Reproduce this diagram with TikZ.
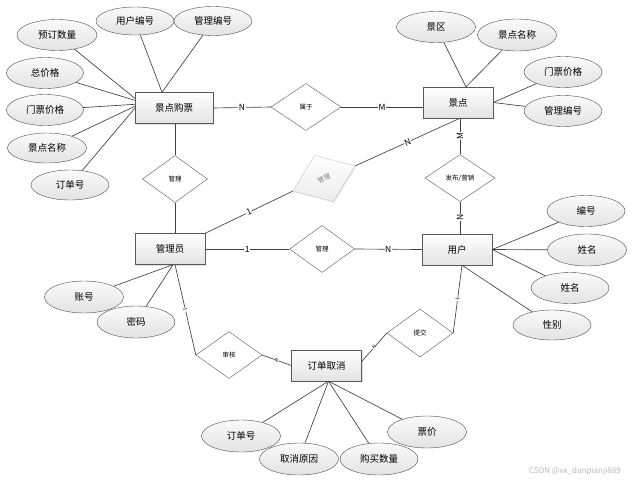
\documentclass[tikz,border=0pt]{standalone}
\usepackage{fontspec}
\setmainfont{Noto Sans CJK SC}
\usetikzlibrary{shapes.geometric,shadows,calc}
\begin{document}
\begin{tikzpicture}[x=1pt,y=-1pt,
 ent/.style={draw=gray!70!black, top color=white, bottom color=gray!22, minimum width=70pt, minimum height=31pt, inner sep=0pt, font=\fontsize{9.5}{11}\selectfont, drop shadow={shadow xshift=1.2pt,shadow yshift=-1.2pt,opacity=0.25}},
 attr/.style={ellipse, draw=gray!60!black, top color=gray!4, bottom color=gray!22, minimum width=78pt, minimum height=30pt, inner sep=0pt, font=\fontsize{9.5}{11}\selectfont},
 rel/.style={diamond, draw=gray!70!black, fill=white, minimum width=66pt, minimum height=47pt, inner sep=0pt, font=\fontsize{6.5}{8}\selectfont},
 ln/.style={draw=black!75, line width=0.65pt},
 lab/.style={font=\fontsize{8.5}{9}\selectfont, fill=white, inner sep=0.6pt},
 tinylab/.style={font=\fontsize{5}{5}\selectfont, fill=white, inner sep=0.3pt, sloped}
]
\useasboundingbox[fill=white] (0,0) rectangle (642,482);

% entities
\node[ent, minimum width=78pt] (gp) at (174,108) {景点购票};
\node[ent] (jd) at (458,102.5) {景点};
\node[ent] (gly) at (170,249) {管理员};
\node[ent] (yh) at (457,249.5) {用户};
\node[ent] (dd) at (326.5,365.5) {订单取消};

% relationships
\node[rel, minimum width=70pt] (sy) at (306,107) {属于};
\node[rel, minimum width=65pt] (gl1) at (175,179) {管理};
\node[rel, minimum width=70pt] (fb) at (460,178) {发布/营销};
\node[rel, minimum width=65pt] (gl2) at (322,249) {管理};
\node[rel, minimum width=67pt, minimum height=50pt, rotate=22, draw=gray!45, top color=white, bottom color=gray!15, text=gray, drop shadow={shadow xshift=1pt,shadow yshift=-1pt,opacity=0.2}] (gd) at (324,178.5) {管理};
\node[rel] (sh) at (229,355) {审核};
\node[rel, minimum height=48pt] (tj) at (420,333) {提交};

% attributes of 景点购票
\node[attr, minimum width=80pt, minimum height=31pt] (a1) at (57,35) {预订数量};
\node[attr, minimum height=28pt] (a2) at (135,21) {用户编号};
\node[attr, minimum height=29pt] (a3) at (213,21) {管理编号};
\node[attr, minimum width=77pt, minimum height=31pt] (a4) at (45,73) {总价格};
\node[attr, minimum width=77pt, minimum height=31pt] (a5) at (45,110) {门票价格};
\node[attr, minimum width=79pt] (a6) at (47,148) {景点名称};
\node[attr] (a7) at (70,185) {订单号};

% attributes of 景点
\node[attr, minimum width=79pt, minimum height=31pt] (b1) at (436,27) {景区};
\node[attr, minimum width=79pt, minimum height=32pt] (b2) at (517,35) {景点名称};
\node[attr, minimum height=31pt] (b3) at (563,72) {门票价格};
\node[attr, minimum height=31pt] (b4) at (563,111) {管理编号};

% attributes of 用户
\node[attr, minimum height=31pt] (c1) at (586,211) {编号};
\node[attr, minimum width=79pt, minimum height=32pt] (c2) at (587,250) {姓名};
\node[attr, minimum height=31pt] (c3) at (570,288) {姓名};
\node[attr] (c4) at (552,325) {性别};

% attributes of 管理员
\node[attr, minimum width=79pt, minimum height=32pt] (d1) at (84,297) {账号};
\node[attr, minimum height=32pt] (d2) at (136,322) {密码};

% attributes of 订单取消
\node[attr, minimum width=79pt, minimum height=32pt] (e1) at (241,436) {订单号};
\node[attr, minimum width=79pt, minimum height=32pt] (e2) at (299,459) {取消原因};
\node[attr, minimum height=32pt] (e3) at (379,459) {购买数量};
\node[attr, minimum width=79pt, minimum height=32pt] (e4) at (427,432) {票价};

% watermark
\node[text=gray!55, font=\fontsize{8}{9}\selectfont] (wm) at (575,471) {CSDN @vx\_danpianji889};

% relationship connectors
\draw[ln] (gp.east) -- node[lab]{N} (sy.west);
\draw[ln] (sy.east) -- node[lab]{M} (sy.east -| jd.west);
\draw[ln] (fb.north |- jd.south) -- node[lab,rotate=90]{M} (fb.north);
\draw[ln] (fb.south) -- node[lab,rotate=90]{N} (fb.south |- yh.north);
\draw[ln] (gl1.north |- gp.south) -- (gl1.north);
\draw[ln] (gl1.south) -- (gl1.south |- gly.north);
\draw[ln] (gly.east) -- node[lab]{1} (gl2.west);
\draw[ln] (gl2.east) -- node[lab]{N} (yh.west);
\draw[ln] (gly.north east) -- node[lab,sloped]{1} (gd.west);
\draw[ln] (gd.east) -- node[lab,sloped]{N} ($(jd.south)+(2,0)$);
\draw[ln] ($(gly.south)+(5,0)$) -- node[tinylab]{1} (sh.west);
\draw[ln] (sh.east) -- node[tinylab]{N} (dd.west);
\draw[ln] ($(dd.east)+(0,-4)$) -- node[tinylab]{N} (tj.west);
\draw[ln] (tj.east) -- node[tinylab]{1} ($(yh.south)+(5,0)$);

% attribute connectors
\draw[ln] (a2) -- ($(gp.north)+(-12,0)$);
\draw[ln] (a3) -- ($(gp.north)+(-12,0)$);
\draw[ln] (a1) -- ($(gp.north west)+(0,6)$);
\draw[ln] (a4) -- ($(gp.north west)+(0,8)$);
\draw[ln] (a5) -- ($(gp.north west)+(0,12)$);
\draw[ln] (a6) -- ($(gp.north west)+(0,14)$);
\draw[ln] (a7) -- ($(gp.north west)+(0,16)$);

\draw[ln] (b1) -- ($(jd.north)+(8,0)$);
\draw[ln] (b2) -- ($(jd.north)+(8,0)$);
\draw[ln] (b3) -- (jd.east);
\draw[ln] (b4) -- (jd.east);

\draw[ln] (c1) -- (yh.east);
\draw[ln] (c2) -- (yh.east);
\draw[ln] (c3) -- (yh.east);
\draw[ln] (c4) -- ($(yh.south)+(5,0)$);

\draw[ln] (d1) -- ($(gly.south)+(3,0)$);
\draw[ln] (d2) -- ($(gly.south)+(3,0)$);

\draw[ln] (e1) -- ($(dd.south)+(2,0)$);
\draw[ln] (e2) -- ($(dd.south)+(2,0)$);
\draw[ln] (e3) -- ($(dd.south)+(2,0)$);
\draw[ln] (e4) -- ($(dd.south)+(2,0)$);
\end{tikzpicture}
\end{document}
